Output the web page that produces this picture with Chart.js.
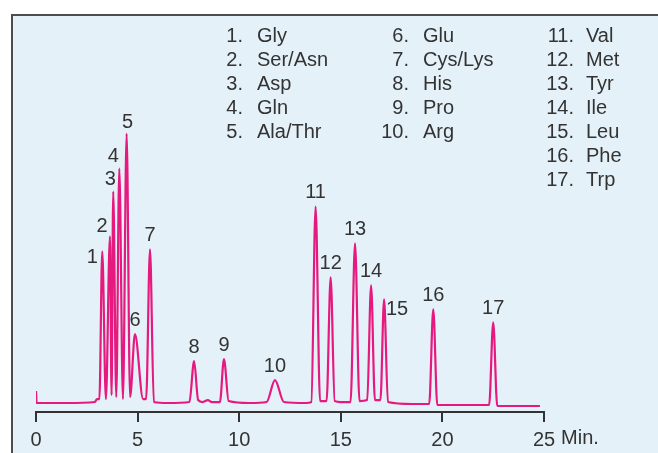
<!DOCTYPE html>
<html>
<head>
<meta charset="utf-8">
<script src="https://cdn.jsdelivr.net/npm/chart.js@4.4.1/dist/chart.umd.min.js"></script>
<style>
    html, body { margin: 0; padding: 0; background: #fff; }
    body { width: 658px; height: 453px; position: relative; overflow: hidden; font-family: "Liberation Sans", Arial, sans-serif; }
    .panel { position: absolute; left: 11px; top: 14px; width: 700px; height: 500px; background: #e5f1f8; border-top: 2px solid #4d4d4d; border-left: 2px solid #4d4d4d; }
    #chart { position: absolute; left: 0; top: 0; }
    .legend { position: absolute; top: 23px; font-size: 20px; line-height: 24px; color: #333; }
    .legend .row { display: flex; white-space: nowrap; }
    .legend .num { text-align: right; }
</style>
</head>
<body>
<div class="panel"></div>
<canvas id="chart" width="658" height="458"></canvas>
<div id="legend"></div>
<script>
// retention time (min) and detector signal
const times = [
    0, 0.03, 1.5, 2.9, 3.0, 3.12, 3.26, 3.44, 3.64, 3.72, 3.8, 3.95, 4.1, 4.28, 4.46, 4.63, 4.87, 5.27, 5.42, 5.61, 5.8, 6.5,
    7.55, 7.78, 7.98, 8.2, 8.46, 8.65, 9.05, 9.25, 9.48, 10.5, 11.35, 11.76, 12.2, 13.3,
    13.55, 13.76, 13.98, 14.3, 14.5, 14.7, 15.0, 15.48, 15.7, 15.92, 16.3, 16.49, 16.68, 16.95, 17.13, 17.32,
    18.5, 19.35, 19.55, 19.75, 21.0, 22.3, 22.5, 22.7, 24.8,
];
const signal = [
    12, 0, 0, 1, 4, 4, 152, 4, 167, 8, 212, 6, 235, 4, 270, 6, 69, 4, 4, 154, 1, 0,
    1, 42, 3, 1, 3, 1, 1, 44, 2, 0, 1, 23, 1, 0,
    1, 197, 2, 2, 126, 2, 1, 1, 160, 2, 3, 118, 3, 3, 104, 1,
    -1, -1, 94, -2, -2, -2, 81, -3, -3,
];
const peakTimes = [3.26, 3.64, 3.8, 4.1, 4.46, 4.87, 5.61, 7.78, 9.25, 11.76, 13.76, 14.5, 15.7, 16.49, 17.13, 19.55, 22.5];
const aminoAcids = ['Gly', 'Ser/Asn', 'Asp', 'Gln', 'Ala/Thr', 'Glu', 'Cys/Lys', 'His', 'Pro', 'Arg',
    'Val', 'Met', 'Tyr', 'Ile', 'Leu', 'Phe', 'Trp'];
const xTicks = [0, 5, 10, 15, 20, 25];
const xUnit = 'Min.';

const LINE = '#e6197f';
const TEXT = '#333';
const FONT = '"Liberation Sans", Arial, sans-serif';

// label offsets from each peak top, px
const LABEL_OFFSET = { 1: [-10, 6], 2: [-8, -10], 3: [-3, -12], 4: [-6, -12], 5: [1, -11], 15: [13, 10] };

// legend columns: [first index, last index + 1, left of numbers, number width]
const LEGEND_COLS = [[0, 5, 223, 20], [5, 10, 379, 30], [10, 17, 542, 32]];
const legendRoot = document.getElementById('legend');
legendRoot.innerHTML = LEGEND_COLS.map(([a, b, left, w]) => `
    <div class="legend" style="left:${left}px">
        ${aminoAcids.slice(a, b).map((n, i) => `<div class="row"><span class="num" style="width:${w}px">${a + i + 1}.</span><span style="margin-left:${left > 500 ? 12 : 14}px">${n}</span></div>`).join('')}
    </div>`).join('');

const peakLabels = {
    id: 'peakLabels',
    afterDatasetsDraw(chart) {
        const { ctx, scales: { x, y } } = chart;
        ctx.save();
        ctx.font = `20px ${FONT}`;
        ctx.fillStyle = TEXT;
        ctx.textAlign = 'center';
        ctx.textBaseline = 'middle';
        peakTimes.forEach((t, i) => {
            const v = signal[times.indexOf(t)];
            const [dx, dy] = LABEL_OFFSET[i + 1] || [0, -14];
            ctx.fillText(String(i + 1), x.getPixelForValue(t) + dx, y.getPixelForValue(v) + dy);
        });
        // unit after the last tick label
        const last = xTicks[xTicks.length - 1];
        const tw = ctx.measureText(String(last)).width;
        ctx.textAlign = 'left';
        ctx.textBaseline = 'top';
        const lbl = x._labelItems ? x._labelItems[x._labelItems.length - 1] : null;
        const ty = lbl ? lbl.options.translation[1] : 430;
        ctx.fillText(xUnit, x.getPixelForValue(last) + tw / 2 + 6, ty);
        ctx.restore();
    },
};

new Chart(document.getElementById('chart'), {
    type: 'scatter',
    data: {
        datasets: [{
            data: times.map((t, i) => ({ x: t, y: signal[i] })),
            showLine: true,
            borderColor: LINE,
            borderWidth: 2.2,
            pointRadius: 0,
            cubicInterpolationMode: 'monotone',
        }],
    },
    options: {
        responsive: false,
        animation: false,
        layout: { padding: { left: 36, right: 114, top: 20, bottom: 0 } },
        plugins: { legend: { display: false }, tooltip: { enabled: false } },
        scales: {
            x: {
                type: 'linear', min: 0, max: 25,
                afterBuildTicks: (s) => { s.ticks = xTicks.map((v) => ({ value: v })); },
                border: { display: true, color: '#333', width: 2 },
                grid: { drawOnChartArea: false, drawTicks: true, tickLength: 10, color: '#333', lineWidth: 2 },
                ticks: { color: TEXT, font: { size: 20, family: FONT }, padding: 6, maxRotation: 0 },
            },
            y: { display: false, min: -9, max: 384 },
        },
    },
    plugins: [peakLabels],
});
</script>
</body>
</html>
